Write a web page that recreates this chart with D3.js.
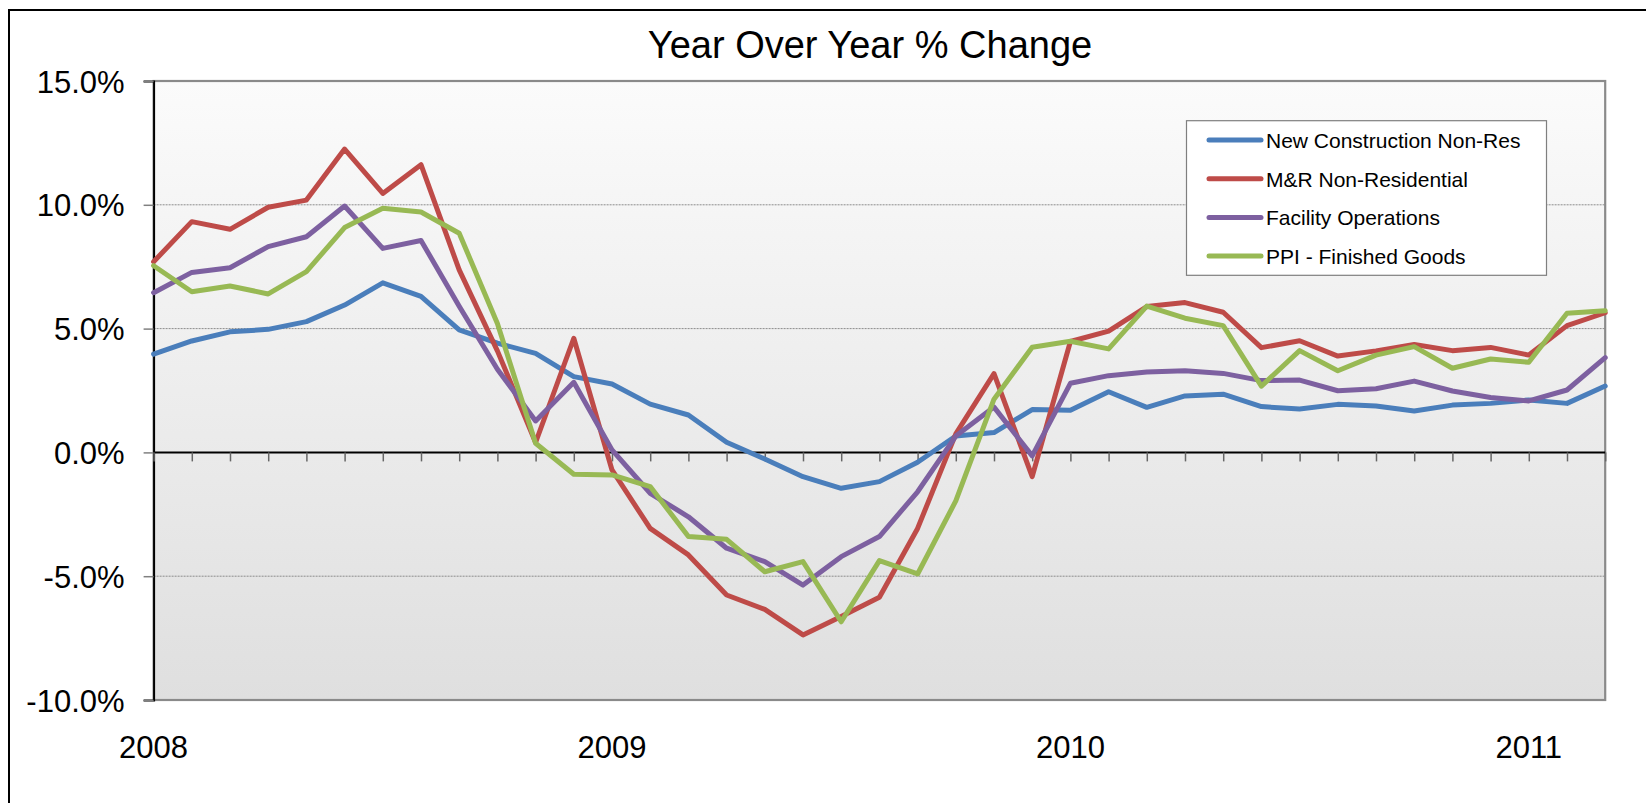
<!DOCTYPE html>
<html>
<head>
<meta charset="utf-8">
<script src="https://cdn.jsdelivr.net/npm/d3@7"></script>
<style>
  body { margin: 0; background: #ffffff; }
  svg { display: block; }
  text { font-family: "Liberation Sans", Arial, sans-serif; fill: #000; }
</style>
</head>
<body>
<svg id="chart" width="1646" height="803"></svg>
<script>
// ---------------- DATA ----------------
const months = [
  "Jan 2008","Feb 2008","Mar 2008","Apr 2008","May 2008","Jun 2008","Jul 2008","Aug 2008","Sep 2008","Oct 2008","Nov 2008","Dec 2008",
  "Jan 2009","Feb 2009","Mar 2009","Apr 2009","May 2009","Jun 2009","Jul 2009","Aug 2009","Sep 2009","Oct 2009","Nov 2009","Dec 2009",
  "Jan 2010","Feb 2010","Mar 2010","Apr 2010","May 2010","Jun 2010","Jul 2010","Aug 2010","Sep 2010","Oct 2010","Nov 2010","Dec 2010",
  "Jan 2011","Feb 2011","Mar 2011"
];
const yearTickMonths = ["Jan 2008","Jan 2009","Jan 2010","Jan 2011"];
const yearTickLabels = ["2008","2009","2010","2011"];
const yTicks = [-10, -5, 0, 5, 10, 15];
const gridValues = [-5, 5, 10];

const seriesNames = ["New Construction Non-Res","M&R Non-Residential","Facility Operations","PPI - Finished Goods"];
const newConstructionNonRes = [3.97, 4.50, 4.87, 4.97, 5.28, 5.95, 6.85, 6.30, 4.95, 4.41, 4.00, 3.06,
  2.76, 1.95, 1.51, 0.41, -0.27, -0.98, -1.45, -1.18, -0.40, 0.66, 0.80, 1.73,
  1.70, 2.45, 1.82, 2.28, 2.35, 1.85, 1.75, 1.94, 1.87, 1.67, 1.91, 1.98,
  2.12, 1.98, 2.68];
const mrNonResidential = [7.70, 9.32, 9.01, 9.90, 10.19, 12.25, 10.46, 11.62, 7.37, 4.10, 0.40, 4.61,
  -0.71, -3.07, -4.14, -5.76, -6.34, -7.37, -6.63, -5.85, -3.07, 0.75, 3.18, -0.98,
  4.48, 4.90, 5.89, 6.05, 5.66, 4.23, 4.51, 3.89, 4.10, 4.36, 4.11, 4.24,
  3.93, 5.12, 5.64];
const facilityOperations = [6.45, 7.27, 7.46, 8.31, 8.71, 9.95, 8.24, 8.56, 5.90, 3.36, 1.27, 2.83,
  0.10, -1.65, -2.60, -3.87, -4.41, -5.36, -4.21, -3.40, -1.59, 0.66, 1.83, -0.14,
  2.79, 3.10, 3.25, 3.30, 3.19, 2.90, 2.92, 2.49, 2.57, 2.88, 2.48, 2.22,
  2.08, 2.52, 3.83];
const ppiFinishedGoods = [7.54, 6.49, 6.72, 6.40, 7.30, 9.08, 9.86, 9.71, 8.85, 5.21, 0.37, -0.88,
  -0.91, -1.38, -3.40, -3.51, -4.82, -4.41, -6.84, -4.37, -4.91, -1.96, 2.15, 4.25,
  4.49, 4.18, 5.91, 5.42, 5.12, 2.68, 4.11, 3.30, 3.93, 4.27, 3.40, 3.77,
  3.64, 5.62, 5.72];
const seriesColors = ["#4A7EBB", "#BE4B48", "#7D60A0", "#98B954"];

const series = [newConstructionNonRes, mrNonResidential, facilityOperations, ppiFinishedGoods]
  .map((values, k) => ({ name: seriesNames[k], values, color: seriesColors[k] }));

// ---------------- LAYOUT ----------------
const svg = d3.select("#chart");
const plot = { left: 153.6, right: 1605.2, top: 81, bottom: 700 };

const x = d3.scalePoint().domain(months).range([plot.left, plot.right]).padding(0);
const y = d3.scaleLinear().domain([-10, 15]).range([plot.bottom, plot.top]);

// hyphen-minus formatting like the original
const locale = d3.formatLocale({ decimal: ".", thousands: ",", grouping: [3], currency: ["$", ""], minus: "-" });
const fmt = locale.format(".1f");

// outer frame (extends past the right and bottom edges)
svg.append("rect").attr("x", 9).attr("y", 10).attr("width", 1700).attr("height", 900)
  .attr("fill", "none").attr("stroke", "#000").attr("stroke-width", 2);

// gradient background
const defs = svg.append("defs");
const grad = defs.append("linearGradient").attr("id", "bg").attr("x1", 0).attr("y1", 0).attr("x2", 0).attr("y2", 1);
grad.append("stop").attr("offset", "0%").attr("stop-color", "#fbfbfb");
grad.append("stop").attr("offset", "100%").attr("stop-color", "#dfdfdf");

svg.append("rect")
  .attr("x", plot.left).attr("y", plot.top)
  .attr("width", plot.right - plot.left).attr("height", plot.bottom - plot.top)
  .attr("fill", "url(#bg)").attr("stroke", "#8a8a8a").attr("stroke-width", 2.2);

// gridlines
svg.append("g").selectAll("line").data(gridValues).join("line")
  .attr("x1", plot.left).attr("x2", plot.right)
  .attr("y1", d => y(d)).attr("y2", d => y(d))
  .attr("stroke", "#8c8c8c").attr("stroke-width", 1).attr("stroke-dasharray", "2,1");

// y axis
const yAxis = d3.axisLeft(y).tickValues(yTicks).tickSize(10).tickPadding(19)
  .tickFormat(d => fmt(d) + "%");
const gy = svg.append("g").attr("transform", `translate(${plot.left},0)`).call(yAxis);
gy.select(".domain").attr("stroke", "#000").attr("stroke-width", 2);
gy.selectAll(".tick line").attr("stroke", "#808080").attr("stroke-width", 1.5);
gy.selectAll(".tick text").attr("font-size", 31).attr("fill", "#000")
  .attr("font-family", "\"Liberation Sans\", Arial, sans-serif").attr("dy", "0.36em");

// zero axis with tick marks
const xAxis = d3.axisBottom(x).tickSize(9).tickFormat("");
const gx = svg.append("g").attr("transform", `translate(0,${y(0)})`).call(xAxis);
gx.select(".domain").attr("stroke", "#000").attr("stroke-width", 2).attr("d", `M${plot.left},0H${plot.right}`);
gx.selectAll(".tick line").attr("stroke", "#666").attr("stroke-width", 1.5);

// year labels at bottom
svg.append("g").selectAll("text").data(yearTickMonths).join("text")
  .attr("x", d => x(d)).attr("y", 758)
  .attr("text-anchor", "middle").attr("font-size", 31)
  .text((d, i) => yearTickLabels[i]);

// lines
const line = d3.line().x((d, i) => x(months[i])).y(d => y(d));
svg.append("g").selectAll("path").data(series).join("path")
  .attr("d", d => line(d.values))
  .attr("fill", "none")
  .attr("stroke", d => d.color)
  .attr("stroke-width", 5)
  .attr("stroke-linejoin", "round")
  .attr("stroke-linecap", "round");

// title
svg.append("text").attr("x", 870).attr("y", 58).attr("text-anchor", "middle")
  .attr("font-size", 38).text("Year Over Year % Change");

// legend
const legend = svg.append("g");
legend.append("rect").attr("x", 1186.5).attr("y", 120.7).attr("width", 360).attr("height", 154.6)
  .attr("fill", "#fff").attr("stroke", "#7f7f7f").attr("stroke-width", 1.2);
const items = legend.selectAll("g.item").data(series).join("g").attr("class", "item")
  .attr("transform", (d, i) => `translate(0,${140 + i * 38.7})`);
items.append("line").attr("x1", 1209).attr("x2", 1261).attr("y1", 0).attr("y2", 0)
  .attr("stroke", d => d.color).attr("stroke-width", 5).attr("stroke-linecap", "round");
items.append("text").attr("x", 1266).attr("y", 8).attr("font-size", 21).text(d => d.name);
</script>
</body>
</html>
